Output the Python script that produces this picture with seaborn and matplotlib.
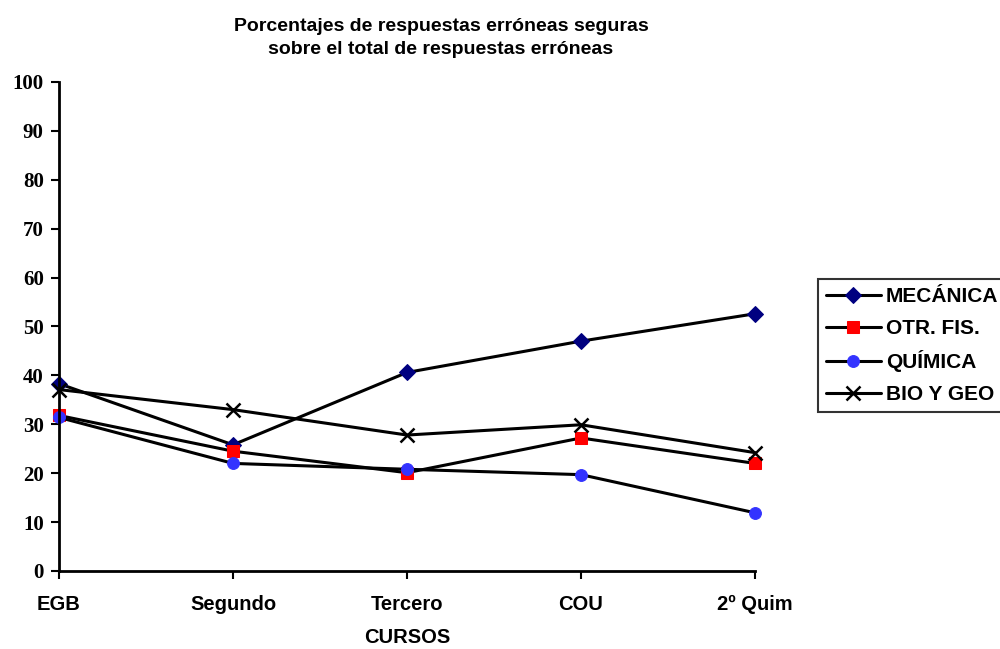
import matplotlib
matplotlib.use("Agg")
import matplotlib.pyplot as plt
import seaborn as sns
import pandas as pd

cursos = ["EGB", "Segundo", "Tercero", "COU", "2º Quim"]
mecanica = [38.3, 25.8, 40.6, 47.0, 52.6]
otr_fis = [31.8, 24.5, 20.1, 27.2, 22.0]
quimica = [31.4, 22.0, 20.8, 19.7, 11.9]
bio_geo = [37.1, 33.0, 27.8, 29.9, 24.2]
y_ticks = list(range(0, 101, 10))

series = {
    "MECÁNICA": mecanica,
    "OTR. FIS.": otr_fis,
    "QUÍMICA": quimica,
    "BIO Y GEO": bio_geo,
}
styles = {
    "MECÁNICA": dict(marker="D", markersize=8.5, markerfacecolor="#000080", markeredgecolor="#000080"),
    "OTR. FIS.": dict(marker="s", markersize=8.5, markerfacecolor="#ff0000", markeredgecolor="#ff0000"),
    "QUÍMICA": dict(marker="o", markersize=8.5, markerfacecolor="#3333ff", markeredgecolor="#3333ff"),
    "BIO Y GEO": dict(marker="x", markersize=9.5, markeredgewidth=1.8, markeredgecolor="black"),
}

rows = []
for name, vals in series.items():
    for i, v in enumerate(vals):
        rows.append({"serie": name, "pos": i, "valor": v})
df = pd.DataFrame(rows)

sns.set_style("white")
plt.rcParams["font.family"] = ["Liberation Sans", "DejaVu Sans"]
plt.rcParams["text.color"] = "black"
plt.rcParams["axes.labelcolor"] = "black"
plt.rcParams["xtick.color"] = "black"
plt.rcParams["ytick.color"] = "black"

fig = plt.figure(figsize=(10, 6.49), dpi=100)
ax = fig.add_axes([0.059, 0.1202, 0.696, 0.7535])

for name in series:
    sns.lineplot(data=df[df["serie"] == name], x="pos", y="valor", ax=ax,
                 color="black", linewidth=2.2, label=name, clip_on=False,
                 **styles[name])

ax.set_xlim(0, len(cursos) - 1)
ax.set_ylim(0, 100)
ax.set_xticks(range(len(cursos)))
ax.set_xticklabels(cursos, fontsize=14.5, fontweight="bold")
ax.set_yticks(y_ticks)
ax.set_yticklabels([str(t) for t in y_ticks], fontsize=15, fontweight="bold",
                   family=["Liberation Serif", "DejaVu Serif"])
ax.tick_params(axis="both", direction="out", length=6, width=1.5, color="black",
               bottom=True, left=True)
ax.tick_params(axis="x", pad=11)
ax.tick_params(axis="y", pad=5)

for side in ["top", "right"]:
    ax.spines[side].set_visible(False)
for side in ["left", "bottom"]:
    ax.spines[side].set_color("black")
    ax.spines[side].set_linewidth(2.0)

ax.set_xlabel("CURSOS", fontsize=14.5, fontweight="bold", labelpad=10)
ax.set_ylabel("")

fig.text(0.441, 0.972, "Porcentajes de respuestas erróneas seguras\nsobre el total de respuestas erróneas",
         ha="center", va="top", fontsize=14, fontweight="bold", linespacing=1.45)

leg = ax.legend(loc="upper left", bbox_to_anchor=(0.818, 1 - 279 / 649),
                bbox_transform=fig.transFigure, frameon=True, fancybox=False,
                prop=dict(size=15, weight="bold"), handlelength=2.6,
                labelspacing=0.6, borderpad=0.4, handletextpad=0.25,
                borderaxespad=0)
leg.get_frame().set_edgecolor("black")
leg.get_frame().set_linewidth(1.5)
leg.get_frame().set_facecolor("white")

fig.savefig("out.png", dpi=100)
